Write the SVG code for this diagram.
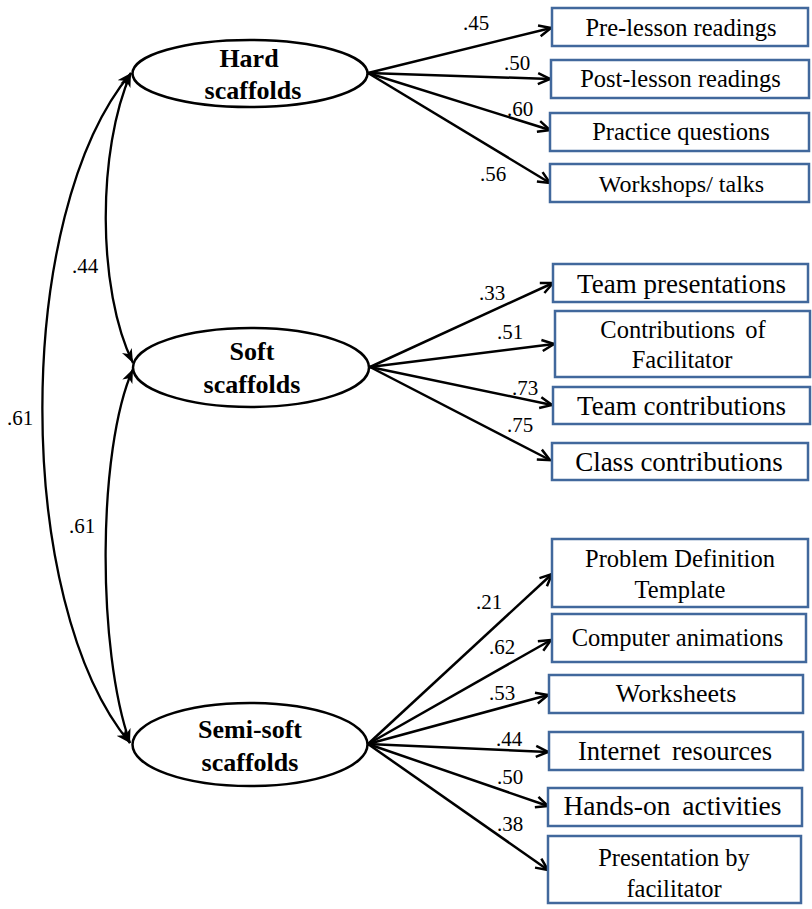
<svg xmlns="http://www.w3.org/2000/svg" width="812" height="909" viewBox="0 0 812 909">
<style>
.ell{fill:#fff;stroke:#000;stroke-width:2.5}
.box{fill:#fff;stroke:#41689c;stroke-width:2.5}
.lat{font-family:"Liberation Serif","Times New Roman",serif;font-weight:bold;font-size:26px;text-anchor:middle;fill:#000}
.t{font-family:"Liberation Serif","Times New Roman",serif;text-anchor:middle;fill:#000}
.lbl{font-family:"Liberation Serif","Times New Roman",serif;font-size:21px;text-anchor:middle;fill:#000}
.ln{fill:none;stroke:#000;stroke-width:2.5;marker-end:url(#open)}
.arc{fill:none;stroke:#000;stroke-width:2.3;marker-start:url(#stealth);marker-end:url(#stealth)}
</style>
<defs>
<marker id="open" viewBox="0 0 15 14" refX="13.5" refY="7" markerWidth="15" markerHeight="14" markerUnits="userSpaceOnUse" orient="auto">
<path d="M1.5,1.5 L13.5,7 L1.5,12.5" fill="none" stroke="#000" stroke-width="2.5"/>
</marker>
<marker id="stealth" viewBox="0 0 15 11" refX="14" refY="5.5" markerWidth="15" markerHeight="11" markerUnits="userSpaceOnUse" orient="auto-start-reverse">
<path d="M0,0 L14,5.5 L0,11 L4,5.5 Z" fill="#000"/>
</marker>
</defs>

<g id="connectors">
<path class="arc" d="M131,73 C13,213 13,603 130,743"/>
<path class="arc" d="M131,73 C97,150 97,290 133,363"/>
<path class="arc" d="M133,369 C97,450 97,650 130,743"/>
<line class="ln" x1="368" y1="73" x2="551" y2="28"/>
<line class="ln" x1="368" y1="73" x2="550" y2="79"/>
<line class="ln" x1="368" y1="73" x2="550" y2="130"/>
<line class="ln" x1="368" y1="73" x2="550" y2="183"/>
<line class="ln" x1="370" y1="367" x2="553" y2="283"/>
<line class="ln" x1="370" y1="367" x2="554" y2="344"/>
<line class="ln" x1="370" y1="367" x2="552" y2="405"/>
<line class="ln" x1="370" y1="367" x2="550" y2="460"/>
<line class="ln" x1="368" y1="744" x2="552" y2="574"/>
<line class="ln" x1="368" y1="744" x2="551" y2="640"/>
<line class="ln" x1="368" y1="744" x2="548" y2="695"/>
<line class="ln" x1="368" y1="744" x2="548" y2="752"/>
<line class="ln" x1="368" y1="744" x2="548" y2="806"/>
<line class="ln" x1="368" y1="744" x2="548" y2="870"/>
<text class="lbl" x="85" y="273">.44</text>
<text class="lbl" x="20" y="425">.61</text>
<text class="lbl" x="82" y="533">.61</text>
<text class="lbl" x="476" y="30">.45</text>
<text class="lbl" x="517" y="70">.50</text>
<text class="lbl" x="520" y="116">.60</text>
<text class="lbl" x="493" y="181">.56</text>
<text class="lbl" x="492" y="300">.33</text>
<text class="lbl" x="510" y="339">.51</text>
<text class="lbl" x="525" y="395">.73</text>
<text class="lbl" x="520" y="432">.75</text>
<text class="lbl" x="489" y="609">.21</text>
<text class="lbl" x="502" y="654">.62</text>
<text class="lbl" x="502" y="700">.53</text>
<text class="lbl" x="509" y="746">.44</text>
<text class="lbl" x="510" y="784">.50</text>
<text class="lbl" x="510" y="831">.38</text>
</g>

<g id="hard">
<ellipse class="ell" cx="250" cy="73.5" rx="117.5" ry="33.5"/>
<text class="lat" x="249" y="67">Hard</text>
<text class="lat" x="253" y="99">scaffolds</text>
</g>
<g id="soft">
<ellipse class="ell" cx="251" cy="367.5" rx="118" ry="39.5"/>
<text class="lat" x="252" y="360">Soft</text>
<text class="lat" x="252" y="393">scaffolds</text>
</g>
<g id="semisoft">
<ellipse class="ell" cx="250" cy="744.5" rx="117.5" ry="41.5"/>
<text class="lat" x="250" y="738">Semi-soft</text>
<text class="lat" x="250" y="771">scaffolds</text>
</g>

<g id="pre-lesson"><rect class="box" x="552" y="8" width="256" height="38"/><text class="t" x="681" y="36" font-size="24.5">Pre-lesson readings</text></g>
<g id="post-lesson"><rect class="box" x="551" y="60" width="258" height="38"/><text class="t" x="680.5" y="87" font-size="24.5">Post-lesson readings</text></g>
<g id="practice"><rect class="box" x="550" y="113" width="259" height="38"/><text class="t" x="681" y="140" font-size="24.5">Practice questions</text></g>
<g id="workshops"><rect class="box" x="550" y="164" width="259" height="38"/><text class="t" x="681.5" y="191.5" font-size="24">Workshops/ talks</text></g>

<g id="team-presentations"><rect class="box" x="553" y="264" width="255" height="38"/><text class="t" x="681.5" y="293" font-size="27">Team presentations</text></g>
<g id="contrib-facilitator"><rect class="box" x="555" y="311" width="255" height="66"/><text class="t" x="683" y="338" font-size="24.5" word-spacing="4">Contributions of</text><text class="t" x="682" y="368" font-size="24.5">Facilitator</text></g>
<g id="team-contributions"><rect class="box" x="553" y="387" width="257" height="37"/><text class="t" x="681.5" y="415" font-size="27">Team contributions</text></g>
<g id="class-contributions"><rect class="box" x="552" y="443" width="256" height="37"/><text class="t" x="679" y="470.5" font-size="27">Class contributions</text></g>

<g id="problem-definition"><rect class="box" x="552" y="539" width="256" height="68"/><text class="t" x="680" y="566.5" font-size="24.5">Problem Definition</text><text class="t" x="680" y="597.5" font-size="24.5">Template</text></g>
<g id="computer-animations"><rect class="box" x="552" y="614" width="254" height="48"/><text class="t" x="677.5" y="645.5" font-size="24.5">Computer animations</text></g>
<g id="worksheets"><rect class="box" x="549" y="675" width="254" height="38"/><text class="t" x="676" y="702" font-size="26">Worksheets</text></g>
<g id="internet"><rect class="box" x="549" y="732" width="254" height="38"/><text class="t" x="675" y="760" font-size="26.5" word-spacing="5">Internet resources</text></g>
<g id="hands-on"><rect class="box" x="548" y="788" width="254" height="38"/><text class="t" x="672.5" y="815" font-size="27.5" word-spacing="5">Hands-on activities</text></g>
<g id="presentation"><rect class="box" x="548" y="836" width="253" height="67"/><text class="t" x="674" y="865.5" font-size="24.5">Presentation by</text><text class="t" x="674" y="896.5" font-size="24.5">facilitator</text></g>
</svg>
